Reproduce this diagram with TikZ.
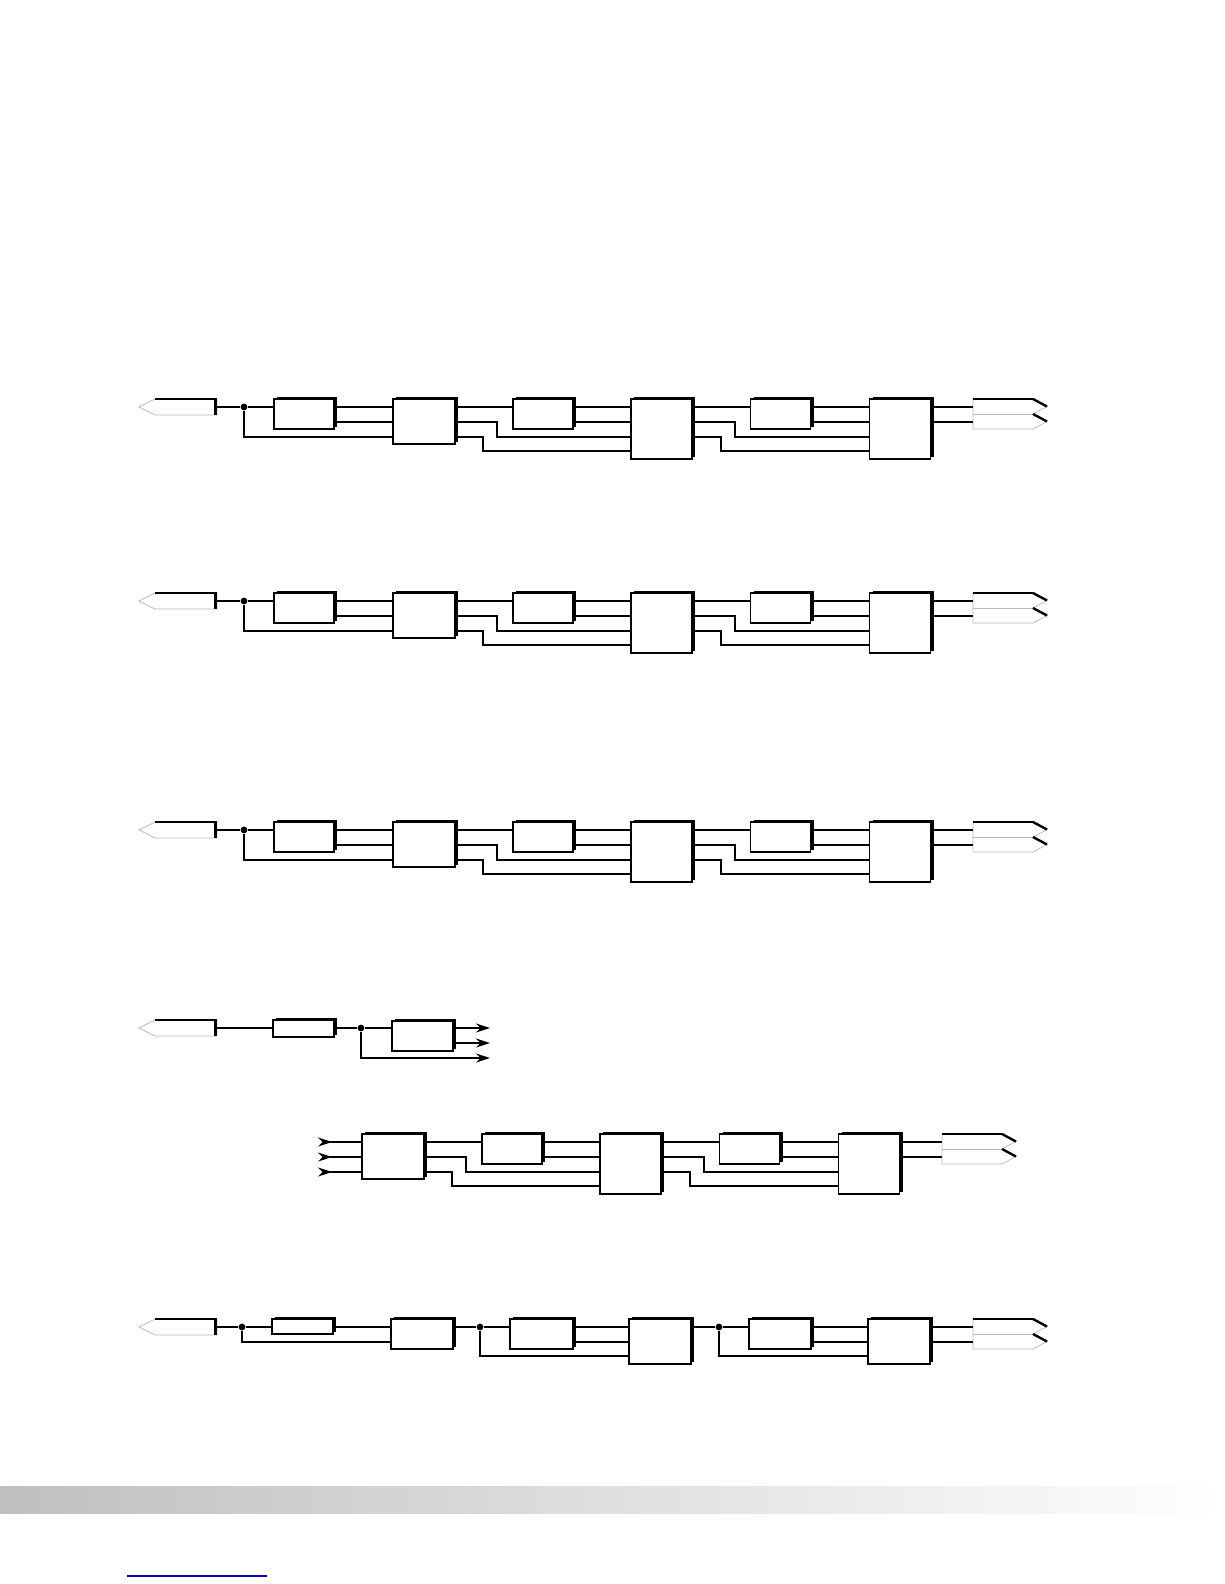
\documentclass[tikz,border=0pt]{standalone}
\usepackage{tikz}
\usetikzlibrary{arrows.meta, shadows}
\tikzset{block/.style={draw,fill=white,line width=1.6pt,inner sep=0pt,outer sep=0pt,
           general shadow={fill=black,shadow xshift=0.17cm,shadow yshift=0.12cm}},
         sbox/.style={block,minimum width=3cm,minimum height=1.5cm},
         mbox/.style={block,minimum width=3.1cm,minimum height=2.25cm},
         lbox/.style={block,minimum width=3.05cm,minimum height=3cm},
         res/.style={block,minimum width=3.05cm,minimum height=0.8cm},
         plug/.style={inner sep=0pt,outer sep=0pt,minimum width=3.1cm,minimum height=0.8cm},
         socket/.style={inner sep=0pt,outer sep=0pt,minimum width=3cm,minimum height=1.5cm},
         junction/.style={circle,fill,inner sep=0pt,minimum size=0.34cm},
         wire/.style={line width=1.6pt},
         bus/.style={line width=3.4pt},
         arrowout/.style={wire,-{Stealth[length=0.7cm,width=0.45cm]}},
         arrowin/.style={wire,{Stealth[length=0.7cm,width=0.45cm,reversed]}-},
        }
\newcommand\drawinlet[1]{%
  \filldraw[fill=white,draw=gray!55,line width=1pt](#1.north west)--(#1.north east)--(#1.south east)--(#1.south west)--++(-16,-8)--cycle;
  \draw[line width=1.8pt](#1.north west)--(#1.north east);
  \draw[line width=4pt]([xshift=-2pt]#1.north east)--([xshift=-2pt]#1.south east);}
\newcommand\drawoutlet[1]{%
  \filldraw[fill=white,draw=gray!55,line width=1pt](#1.north west)--(#1.north east)--++(14,7.5)--(#1.east)--++(14,7.5)--(#1.south east)--(#1.south west)--cycle;
  \draw[gray!55,line width=1pt](#1.west)--(#1.east);
  \draw[line width=1.8pt](#1.north west)--(#1.north east);
  \draw[line width=3.4pt](#1.north east)--++(14,7.5)(#1.east)--++(14,7.5);}
\newcommand\drawtrunk[1]{%
  \node[mbox](b#1)at(424,14.5){};
  \node[sbox](c#1)at(543,7){};
  \node[lbox](d#1)at(661.5,22){};
  \node[sbox](e#1)at(780.5,7){};
  \node[lbox](f#1)at(900,22){};
  \node[socket](o#1)at(1003,7){};
  \drawoutlet{o#1}
  \draw[wire](b#1.east|-0,0)--(c#1.west|-0,0);
  \draw[wire](b#1.east|-0,15)-|(497,30)--(d#1.west|-0,30);
  \draw[wire](b#1.east|-0,30)-|(483,44)--(d#1.west|-0,44);
  \draw[wire](c#1.east|-0,0)--(d#1.west|-0,0);
  \draw[wire](c#1.east|-0,15)--(d#1.west|-0,15);
  \draw[wire](d#1.east|-0,0)--(e#1.west|-0,0);
  \draw[wire](d#1.east|-0,15)-|(735,30)--(f#1.west|-0,30);
  \draw[wire](d#1.east|-0,30)-|(721,44)--(f#1.west|-0,44);
  \draw[wire](e#1.east|-0,0)--(f#1.west|-0,0);
  \draw[wire](e#1.east|-0,15)--(f#1.west|-0,15);
  \draw[wire](f#1.east|-0,0)--(o#1.west|-0,0);
  \draw[wire](f#1.east|-0,15)--(o#1.west|-0,15);}

\begin{document}
\begin{tikzpicture}[x=0.05cm,y=-0.05cm]
    \useasboundingbox(0,0)rectangle(1224,1584);

    \foreach \r/\L in {1/407,2/601,3/830}{
      \begin{scope}[shift={(0,\L)}]
        \node[plug](i\r)at(186,0){};
        \drawinlet{i\r}
        \node[junction](j\r)at(244,0){};
        \node[sbox](a\r)at(304,7){};
        \drawtrunk{\r}
        \draw[wire](i\r.east)--(j\r)--(a\r.west|-j\r);
        \draw[wire](a\r.east|-0,0)--(b\r.west|-0,0);
        \draw[wire](a\r.east|-0,15)--(b\r.west|-0,15);
        \draw[wire](j\r)|-(b\r.west|-0,30);
      \end{scope}}

    \begin{scope}[shift={(0,1028)}]
        \node[plug](i4)at(186,0){};
        \drawinlet{i4}
        \node[res,minimum height=0.85cm](r4)at(303.5,0.5){};
        \node[junction](j4)at(361,0){};
        \node[sbox,minimum width=3.05cm](g4)at(422.5,8){};
        \coordinate(t4a)at(490,0);
        \coordinate(t4b)at(490,15);
        \coordinate(t4c)at(490,30);
        \draw[wire](i4.east)--(r4.west|-j4);
        \draw[wire](r4.east|-j4)--(j4)--(g4.west|-j4);
        \draw[arrowout](g4.east|-t4a)--(t4a);
        \draw[arrowout](g4.east|-t4b)--(t4b);
        \draw[arrowout](j4)|-(t4c);
    \end{scope}

    \begin{scope}[shift={(-31,1142)}]
        \drawtrunk{5}
        \coordinate(s5a)at(349,0);
        \coordinate(s5b)at(349,15);
        \coordinate(s5c)at(349,30);
        \draw[arrowin](s5a)--(b5.west|-s5a);
        \draw[arrowin](s5b)--(b5.west|-s5b);
        \draw[arrowin](s5c)--(b5.west|-s5c);
    \end{scope}

    \begin{scope}[shift={(0,1327)}]
        \node[plug](i6)at(186,0){};
        \drawinlet{i6}
        \node[junction](j6)at(242,0){};
        \node[res,minimum height=0.75cm](r6)at(302.5,-0.5){};
        \node[sbox,minimum width=3.1cm](g6)at(422,7){};
        \node[junction](k6)at(480,0){};
        \node[sbox,minimum width=3.15cm](h6)at(541.5,7){};
        \node[mbox](m6)at(660,14.5){};
        \node[junction](n6)at(719,0){};
        \node[sbox,minimum width=3.1cm](p6)at(780,7){};
        \node[mbox](q6)at(899,14.5){};
        \node[socket](o6)at(1003,7){};
        \drawoutlet{o6}
        \draw[wire](i6.east)--(j6);
        \draw[bus](j6)--(r6.west|-j6);
        \draw[wire](r6.east|-j6)--(g6.west|-j6);
        \draw[bus](r6.east|-j6)--++(27,0);
        \draw[wire](j6)|-(g6.west|-0,15);
        \draw[wire](g6.east|-0,0)--(k6);
        \draw[bus](k6)--(h6.west|-k6);
        \draw[wire](h6.east|-0,0)--(m6.west|-0,0);
        \draw[bus](h6.east|-0,0)--++(26,0);
        \draw[wire](h6.east|-0,15)--(m6.west|-0,15);
        \draw[wire](k6)|-(m6.west|-0,29);
        \draw[wire](m6.east|-0,0)--(n6)--(p6.west|-n6);
        \draw[wire](n6)|-(q6.west|-0,29);
        \draw[wire](p6.east|-0,0)--(q6.west|-0,0);
        \draw[wire](p6.east|-0,15)--(q6.west|-0,15);
        \draw[wire](q6.east|-0,0)--(o6.west|-0,0);
        \draw[wire](q6.east|-0,15)--(o6.west|-0,15);
    \end{scope}

    \shade[left color=gray!50,middle color=gray!12,right color=white](0,1486)rectangle(1224,1513);
    \draw[blue!75!black,line width=1.8pt](127,1576)--(267,1576);
\end{tikzpicture}
\end{document}
